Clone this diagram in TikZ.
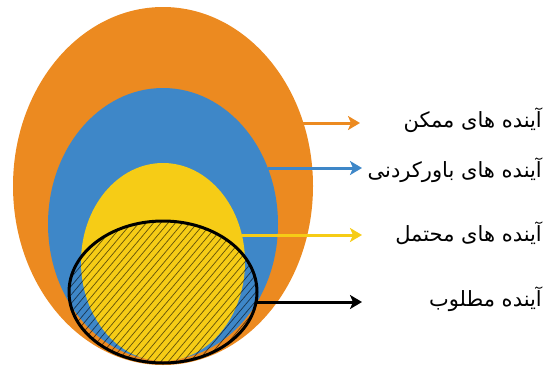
\documentclass[tikz,border=0pt]{standalone}
\usepackage{fontspec}
\newfontfamily\arabicfont[Script=Arabic]{DejaVu Sans}
\TeXXeTstate=1
\usetikzlibrary{arrows.meta,shapes.geometric}
\definecolor{orng}{RGB}{236,138,32}
\definecolor{blu}{RGB}{62,135,200}
\definecolor{yel}{RGB}{246,204,22}
\tikzset{
  blob/.style={ellipse,inner sep=0pt,draw=none},
  lbl/.style={anchor=east,inner sep=0pt,font=\arabicfont\fontsize{21}{25}\selectfont},
  arr/.style={line width=3pt,-{Stealth[length=12pt,width=14pt,inset=3pt]}}
}
\begin{document}
\begin{tikzpicture}[x=1pt,y=-1pt]
\useasboundingbox (0,0) rectangle (548,372);
\node[blob,fill=orng,minimum width=300pt,minimum height=358pt] (orange) at (163,186) {};
\node[blob,fill=blu,minimum width=230pt,minimum height=272pt] (blue) at (163,224) {};
\node[blob,fill=yel,minimum width=164pt,minimum height=198pt] (yellow) at (163,262) {};
\begin{scope}
  \clip (163,292) ellipse [x radius=94, y radius=71];
  \foreach \k in {0,...,80}
    \draw[black,opacity=0.6,line width=0.7pt] ({-160+7.3*\k},370) -- ++(180,-214);
\end{scope}
\node[blob,draw=black,line width=3pt,minimum width=188pt,minimum height=142pt] (desired) at (163,292) {};
% labels
\node[lbl] (l1) at (542,120) {\beginR آینده های ممکن\endR};
\node[lbl] (l2) at (542,170) {\beginR آینده های باورکردنی\endR};
\node[lbl] (l3) at (542,233) {\beginR آینده های محتمل\endR};
\node[lbl] (l4) at (542,299) {\beginR آینده مطلوب\endR};
% connector endpoints
\coordinate (s1) at (303,123); \coordinate (e1) at (360,123);
\coordinate (s2) at (268,168); \coordinate (e2) at (362,168);
\coordinate (s3) at (242,235); \coordinate (e3) at (362,235);
\coordinate (s4) at (257,302); \coordinate (e4) at (362,302);
\draw[arr,orng] (s1) -- (e1);
\draw[arr,blu] (s2) -- (e2);
\draw[arr,yel] (s3) -- (e3);
\draw[arr,black] (s4) -- (e4);
\end{tikzpicture}
\end{document}
